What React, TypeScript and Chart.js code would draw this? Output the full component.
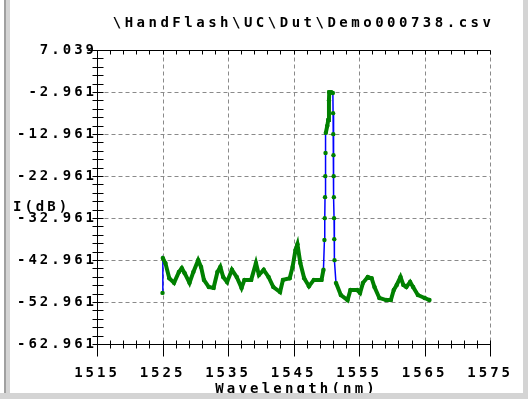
import React, { useEffect, useRef } from "react";
import { Chart, registerables } from "chart.js";

Chart.register(...registerables);

// ---- data ----
const wavelengths = [
  1525.0, 1525.05, 1525.44, 1526.03, 1526.76, 1527.5, 1527.94, 1528.38, 1529.12, 1529.71,
  1530.44, 1530.88, 1531.32, 1532.06, 1532.79, 1533.38, 1533.82, 1534.26, 1534.85, 1535.59,
  1536.32, 1537.06, 1537.5, 1538.53, 1539.26, 1539.71, 1540.44, 1541.18, 1541.91, 1542.94,
  1543.38, 1544.41, 1544.85, 1545.29, 1545.59, 1546.03, 1546.62, 1547.35, 1548.09, 1549.26,
  1549.56, 1549.71, 1549.76, 1549.8, 1549.84, 1549.88, 1549.92, 1550.15, 1550.29, 1550.4,
  1550.44, 1550.74, 1551.0, 1551.03, 1551.06, 1551.09, 1551.12, 1551.15, 1551.18, 1551.21,
  1551.25, 1551.47, 1552.21, 1553.24, 1553.68, 1554.71, 1555.15, 1555.59, 1556.32, 1556.91,
  1557.35, 1558.09, 1559.12, 1559.85, 1560.29, 1560.74, 1561.32, 1561.76, 1562.21, 1562.79,
  1563.24, 1563.97, 1565.0, 1565.74,
];
const powers = [
  -50.8, -42.5, -43.7, -47.3, -48.4, -45.8, -44.9, -46.1, -48.4, -45.8,
  -43.0, -44.6, -47.7, -49.4, -49.6, -45.8, -44.6, -47.0, -48.2, -45.3,
  -47.0, -49.6, -47.7, -47.7, -43.7, -46.5, -45.3, -47.0, -49.4, -50.6,
  -47.7, -47.3, -44.6, -40.6, -39.2, -43.7, -47.3, -49.2, -47.7, -47.7,
  -45.3, -38.2, -33.0, -28.0, -23.0, -17.5, -12.7, -11.0, -9.6, -5.0,
  -3.0, -3.0, -3.2, -8.0, -13.0, -18.0, -23.0, -28.0, -33.0, -38.0,
  -43.0, -48.4, -51.3, -52.5, -50.1, -50.1, -50.8, -48.4, -47.0, -47.3,
  -49.4, -52.0, -52.5, -52.5, -50.1, -48.9, -47.0, -48.9, -49.4, -48.2,
  -49.4, -51.3, -52.0, -52.5,
];
const xTickValues = [1515, 1525, 1535, 1545, 1555, 1565, 1575];
const yTickValues = [-62.961, -52.961, -42.961, -32.961, -22.961, -12.961, -2.961, 7.039];
const minorStep = 2;
const chartTitle = "\\HandFlash\\UC\\Dut\\Demo000738.csv";
const xAxisTitle = "Wavelength(nm)";
const yAxisTitle = "I(dB)";

const FONT = '"DejaVu Sans Mono", "Liberation Mono", monospace';
const GREEN = "#008000";
const BLUE = "#0000ff";

const osaPlugin = {
  id: "osaFrame",
  beforeDraw(chart: any) {
    chart.ctx.letterSpacing = "3px";
  },
  beforeDatasetsDraw(chart: any) {
    const { ctx, chartArea: a, scales } = chart;
    const xs = scales.x;
    const ys = scales.y;
    const L = Math.round(a.left) + 0.5;
    const R = Math.round(a.right) + 0.5;
    const T = Math.round(a.top) + 0.5;
    const B = Math.round(a.bottom) + 0.5;
    ctx.save();
    ctx.lineWidth = 1;
    // dashed grid
    ctx.strokeStyle = "#8a8a8a";
    ctx.setLineDash([4, 3]);
    ctx.beginPath();
    for (const v of xTickValues) {
      const px = Math.round(xs.getPixelForValue(v)) + 0.5;
      ctx.moveTo(px, T);
      ctx.lineTo(px, B);
    }
    for (const v of yTickValues) {
      const py = Math.round(ys.getPixelForValue(v)) + 0.5;
      ctx.moveTo(L, py);
      ctx.lineTo(R, py);
    }
    ctx.stroke();
    ctx.setLineDash([]);
    // axes
    ctx.strokeStyle = "#000";
    ctx.beginPath();
    ctx.moveTo(L, T);
    ctx.lineTo(L, B);
    ctx.moveTo(L - 10, T);
    ctx.lineTo(R, T);
    ctx.moveTo(L, B);
    ctx.lineTo(R, B);
    const nx = Math.round((xs.max - xs.min) / minorStep);
    for (let k = 0; k <= nx; k++) {
      const v = xs.min + k * minorStep;
      const px = Math.round(xs.getPixelForValue(v)) + 0.5;
      const major = k % 5 === 0;
      ctx.moveTo(px, B - 4);
      ctx.lineTo(px, B + (major ? 12 : 4));
      ctx.moveTo(px, T);
      ctx.lineTo(px, T + 4);
    }
    const ny = Math.round((ys.max - ys.min) / minorStep);
    for (let k = 0; k < ny; k++) {
      const v = ys.min + k * minorStep;
      const py = Math.round(ys.getPixelForValue(v)) + 0.5;
      ctx.moveTo(L - 5, py);
      ctx.lineTo(L + 6, py);
    }
    ctx.stroke();
    ctx.restore();
  },
  afterDraw(chart: any) {
    const { ctx, chartArea: a } = chart;
    ctx.save();
    ctx.fillStyle = "#000";
    ctx.font = `bold 14px ${FONT}`;
    ctx.textBaseline = "middle";
    ctx.textAlign = "center";
    const cx = (a.left + a.right) / 2;
    ctx.letterSpacing = "3.5px";
    ctx.fillText(chartTitle, cx + 10, a.top - 27);
    ctx.letterSpacing = "3.2px";
    ctx.fillText(xAxisTitle, cx + 3, a.bottom + 45);
    ctx.textAlign = "left";
    ctx.letterSpacing = "3px";
    ctx.fillText(yAxisTitle, 13, a.top + 157);
    ctx.restore();
  },
};

export default function App() {
  const ref = useRef<HTMLCanvasElement | null>(null);
  useEffect(() => {
    if (!ref.current) return;
    const points = wavelengths.map((w, i) => ({ x: w, y: powers[i] }));
    const tickFont = { family: FONT, size: 14, weight: "bold" as const };
    const chart = new Chart(ref.current, {
      type: "line",
      data: {
        datasets: [
          {
            label: "trace",
            data: points,
            borderColor: GREEN,
            borderWidth: 4,
            pointRadius: 2.2,
            pointBackgroundColor: GREEN,
            pointBorderWidth: 0,
            pointHoverRadius: 0,
            segment: {
              borderColor: (c: any) => {
                const dy = Math.abs(c.p1.y - c.p0.y);
                const dx = Math.abs(c.p1.x - c.p0.x);
                return dy > 20 && dy > 3 * dx ? "rgba(0,0,0,0)" : GREEN;
              },
            },
          },
          {
            label: "raw",
            data: points,
            borderColor: BLUE,
            borderWidth: 1.5,
            pointRadius: 0,
          },
        ],
      },
      options: {
        responsive: false,
        animation: false,
        layout: { padding: { top: 50, right: 23, left: 0, bottom: 0 } },
        plugins: {
          legend: { display: false },
          title: { display: false },
          tooltip: { enabled: false },
        },
        scales: {
          x: {
            type: "linear",
            min: 1515,
            max: 1575,
            afterBuildTicks: (s: any) => {
              s.ticks = xTickValues.map((value) => ({ value }));
            },
            afterFit: (s: any) => {
              s.height = 55;
            },
            grid: { display: false, drawTicks: false },
            border: { display: false },
            ticks: {
              autoSkip: false,
              maxRotation: 0,
              padding: 21,
              color: "#000",
              font: tickFont,
              callback: (v: any) => String(v),
            },
          },
          y: {
            type: "linear",
            min: -62.961,
            max: 7.039,
            afterBuildTicks: (s: any) => {
              s.ticks = yTickValues.map((value) => ({ value }));
            },
            afterFit: (s: any) => {
              s.width = 97;
            },
            grid: { display: false, drawTicks: false },
            border: { display: false },
            ticks: {
              autoSkip: false,
              padding: 0,
              color: "#000",
              font: tickFont,
              callback: (v: any) => Number(v).toFixed(3),
            },
          },
        },
      },
      plugins: [osaPlugin],
    });
    return () => chart.destroy();
  }, []);

  return (
    <div style={{ position: "fixed", left: 0, top: 0, width: 528, height: 399, background: "#fff", overflow: "hidden" }}>
      <canvas ref={ref} width={528} height={399} style={{ position: "absolute", left: 0, top: 0 }} />
      <div style={{ position: "absolute", left: 4, top: 0, width: 2, height: 399, background: "#a0a0a0" }} />
      <div style={{ position: "absolute", left: 6, top: 0, width: 4, height: 399, background: "#d4d4d4" }} />
      <div style={{ position: "absolute", left: 523, top: 0, width: 5, height: 399, background: "#d4d4d4" }} />
      <div style={{ position: "absolute", left: 0, top: 393, width: 528, height: 6, background: "#d4d4d4" }} />
    </div>
  );
}
